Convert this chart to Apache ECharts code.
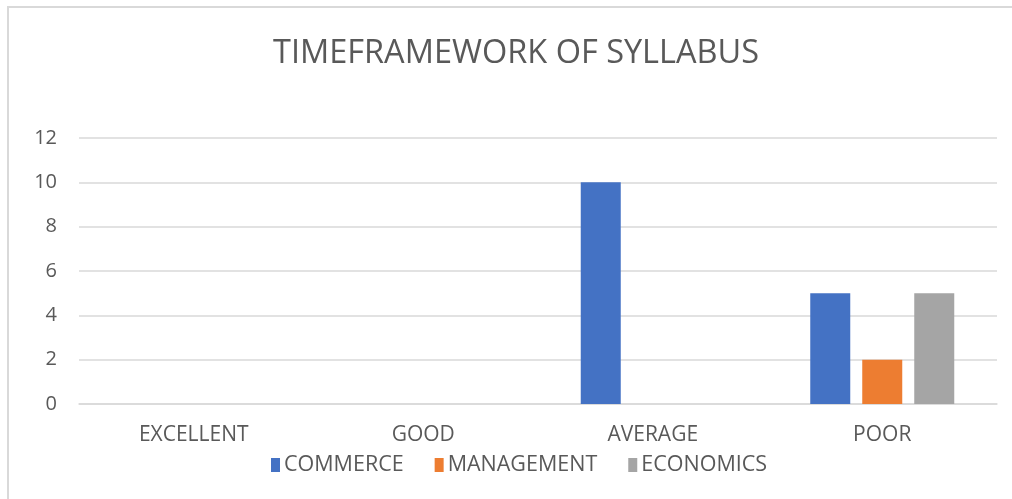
<!DOCTYPE html>
<html>
<head>
<meta charset="utf-8">
<script src="https://cdn.jsdelivr.net/npm/echarts@6/dist/echarts.min.js"></script>
<style>
html,body{margin:0;padding:0;background:#fff;}
#chart{width:1012px;height:499px;}
</style>
</head>
<body>
<div id="chart"></div>
<script>
var categories = ['EXCELLENT', 'GOOD', 'AVERAGE', 'POOR'];
var commerce = [0, 0, 10, 5];
var management = [0, 0, 0, 2];
var economics = [0, 0, 0, 5];
var yTicks = [0, 2, 4, 6, 8, 10, 12];

var FONT = '"Open Sans", sans-serif';
var chart = echarts.init(document.getElementById('chart'), null, {renderer: 'canvas'});
chart.setOption({
  animation: false,
  backgroundColor: '#ffffff',
  title: {
    text: 'TIMEFRAMEWORK OF SYLLABUS',
    left: 268,
    top: 32,
    textStyle: {fontFamily: FONT, fontSize: 32.5, fontWeight: 'normal', color: '#595959'}
  },
  graphic: [
    {type: 'line', shape: {x1: 7, y1: 7, x2: 1012, y2: 7}, style: {stroke: '#d9d9d9', lineWidth: 2}},
    {type: 'line', shape: {x1: 8, y1: 7, x2: 8, y2: 499}, style: {stroke: '#d9d9d9', lineWidth: 2}}
  ],
  legend: {
    bottom: 18,
    left: 266,
    itemWidth: 9,
    itemHeight: 14,
    itemGap: 31,
    icon: 'rect',
    textStyle: {fontFamily: FONT, fontSize: 21.5, color: '#595959', padding: [0, 0, 0, -1]},
    data: ['COMMERCE', 'MANAGEMENT', 'ECONOMICS']
  },
  grid: {left: 79, right: 15, top: 138, bottom: 95},
  xAxis: {
    type: 'category',
    data: categories,
    axisLine: {lineStyle: {color: '#d9d9d9', width: 1.5}},
    axisTick: {show: false},
    axisLabel: {fontFamily: FONT, fontSize: 21, color: '#595959', margin: 21}
  },
  yAxis: {
    type: 'value',
    min: yTicks[0],
    max: yTicks[yTicks.length - 1],
    interval: 2,
    axisLine: {show: false},
    axisTick: {show: false},
    axisLabel: {fontFamily: FONT, fontSize: 20, color: '#595959', margin: 22},
    splitLine: {lineStyle: {color: '#d9d9d9', width: 1.5}}
  },
  series: [
    {name: 'COMMERCE', type: 'bar', data: commerce, barWidth: 40, barGap: '30%', itemStyle: {color: '#4472c4'}},
    {name: 'MANAGEMENT', type: 'bar', data: management, barWidth: 40, barGap: '30%', itemStyle: {color: '#ed7d31'}},
    {name: 'ECONOMICS', type: 'bar', data: economics, barWidth: 40, barGap: '30%', itemStyle: {color: '#a5a5a5'}}
  ]
});
</script>
</body>
</html>
